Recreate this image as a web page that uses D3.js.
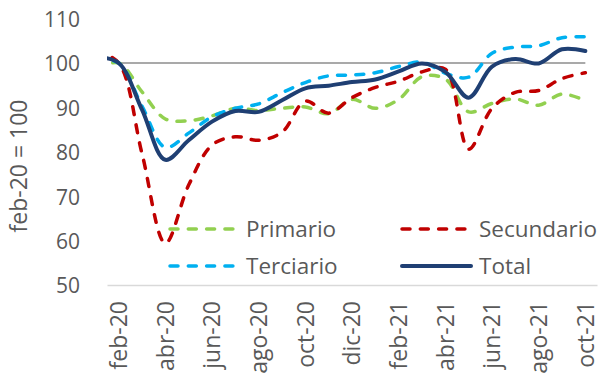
<!DOCTYPE html>
<html>
<head>
<meta charset="utf-8">
<script src="https://cdn.jsdelivr.net/npm/d3@7"></script>
<style>
  html, body { margin: 0; padding: 0; background: #fff; }
  svg { display: block; }
  text { font-family: "Open Sans", "DejaVu Sans", sans-serif; fill: #595959; }
</style>
</head>
<body>
<svg id="chart" width="603" height="377"></svg>
<script>
// Monthly index, base feb-20 = 100 (ene-20 runs off the left edge of the plot)
const months = ["ene-20","feb-20","mar-20","abr-20","may-20","jun-20","jul-20","ago-20","sep-20","oct-20","nov-20","dic-20",
                "ene-21","feb-21","mar-21","abr-21","may-21","jun-21","jul-21","ago-21","sep-21","oct-21"];
const tickLabels = ["feb-20","abr-20","jun-20","ago-20","oct-20","dic-20","feb-21","abr-21","jun-21","ago-21","oct-21"];
const yTicks = [50, 60, 70, 80, 90, 100, 110];

const primario   = [98.8, 100, 93.5, 87.4, 87.0, 88.1, 89.8, 89.3, 89.8, 90.1, 88.6, 91.8, 89.8, 91.8, 96.9, 96.4, 89.0, 90.9, 91.9, 90.5, 93.0, 91.5];
const secundario = [102.8, 100, 79.6, 59.4, 72.5, 81.5, 83.4, 82.6, 84.4, 91.4, 88.7, 92.2, 94.5, 95.9, 98.0, 98.6, 80.6, 89.8, 93.4, 93.8, 96.5, 97.8];
const terciario  = [100.8, 100, 90.3, 81.0, 84.2, 87.9, 89.8, 90.8, 93.3, 95.6, 97.1, 97.3, 97.8, 99.2, 100.2, 97.7, 96.8, 102.2, 103.6, 103.9, 105.7, 105.9];
const total      = [101.4, 100, 89.5, 78.2, 82.6, 86.8, 89.2, 89.0, 91.6, 94.3, 94.9, 95.7, 96.3, 98.1, 99.9, 98.0, 92.2, 99.2, 100.9, 99.9, 103.1, 102.7];
const baseLevel = 100;

const series = [
  { name: "Primario",   values: primario,   color: "#92D050", dash: "8 10.3", width: 3.5 },
  { name: "Secundario", values: secundario, color: "#C00000", dash: "8 10.3", width: 3.5 },
  { name: "Terciario",  values: terciario,  color: "#00B0F0", dash: "8 10.3", width: 3.5 },
  { name: "Total",      values: total,      color: "#1F3F73", dash: null,     width: 4 }
];

const svg = d3.select("#chart");
const plot = { left: 107, right: 597, top: 10, bottom: 285 };

// Category bands for the labelled months (feb-20 .. oct-21)
const shown = months.slice(1);
const band = d3.scaleBand().domain(shown).range([plot.left, plot.right]);
const step = band.step();
// Point positions for every month, centred in its band
const x = d3.scalePoint().domain(months)
  .range([plot.left - step / 2, plot.right - step / 2]);
const y = d3.scaleLinear().domain([50, 110]).range([plot.bottom, 18.6]);

svg.append("defs").append("clipPath").attr("id", "plotClip")
  .append("rect")
  .attr("x", plot.left).attr("y", 0)
  .attr("width", plot.right - plot.left + 10).attr("height", plot.bottom + 5);

// Y axis labels
const yAxis = d3.axisLeft(y).tickValues(yTicks).tickSize(0).tickPadding(0);
const gy = svg.append("g").attr("transform", "translate(80,0)").call(yAxis);
gy.select(".domain").remove();
gy.selectAll("text").attr("font-size", 21).attr("fill", "#595959")
  .style("font-family", "'Open Sans', sans-serif").attr("dy", "0.38em");

// Y axis title
svg.append("text")
  .attr("transform", `translate(19,166) rotate(-90)`)
  .attr("text-anchor", "middle").attr("dy", "0.35em")
  .attr("font-size", 23)
  .text("feb-20 = 100");

// X axis baseline and month labels
const xAxis = d3.axisBottom(band).tickValues(tickLabels).tickSize(0).tickPadding(0);
const gx = svg.append("g").attr("transform", `translate(0,${plot.bottom})`).call(xAxis);
gx.select(".domain").attr("stroke", "#D9D9D9").attr("stroke-width", 1.5);
gx.selectAll("text")
  .attr("font-size", 23).attr("fill", "#595959")
  .style("font-family", "'Open Sans', sans-serif")
  .attr("text-anchor", "end")
  .attr("transform", "translate(0,16) rotate(-90)")
  .attr("x", 0).attr("y", 0).attr("dy", "0.36em");

// Reference line at the base level
svg.append("line")
  .attr("x1", x(shown[0])).attr("x2", x(shown[shown.length - 1]))
  .attr("y1", y(baseLevel)).attr("y2", y(baseLevel))
  .attr("stroke", "#8C8C8C").attr("stroke-width", 1.5);

// Series
const line = d3.line()
  .x((d, i) => x(months[i]))
  .y(d => y(d))
  .curve(d3.curveCatmullRom.alpha(0.5));

const gLines = svg.append("g").attr("clip-path", "url(#plotClip)");
series.forEach(s => {
  gLines.append("path")
    .attr("d", line(s.values))
    .attr("fill", "none")
    .attr("stroke", s.color)
    .attr("stroke-width", s.width)
    .attr("stroke-linecap", "round")
    .attr("stroke-linejoin", "round")
    .attr("stroke-dasharray", s.dash);
});

// Legend (two columns, two rows)
const legendPos = [
  { sx: 170, ex: 238, tx: 246, y: 229 },
  { sx: 402, ex: 471, tx: 479, y: 229 },
  { sx: 170, ex: 238, tx: 246, y: 266 },
  { sx: 402, ex: 471, tx: 479, y: 266 }
];
const legend = svg.append("g");
series.forEach((s, i) => {
  const p = legendPos[i];
  legend.append("line")
    .attr("x1", p.sx).attr("x2", p.ex).attr("y1", p.y).attr("y2", p.y)
    .attr("stroke", s.color).attr("stroke-width", s.width)
    .attr("stroke-linecap", "round")
    .attr("stroke-dasharray", s.dash);
  legend.append("text")
    .attr("x", p.tx).attr("y", p.y).attr("dy", "0.36em")
    .attr("font-size", 22.5)
    .text(s.name);
});
</script>
</body>
</html>
